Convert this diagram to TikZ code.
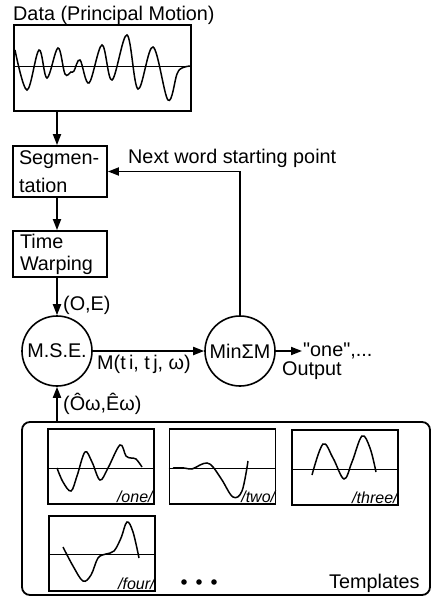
\documentclass[tikz,border=0pt]{standalone}
\usepackage{fontspec}
\setmainfont{Liberation Sans}[Ligatures=TeXOff]
\usetikzlibrary{arrows.meta}
\begin{document}
\begin{tikzpicture}[x=1pt,y=-1pt,
  mainfont/.style={font=\fontsize{19.8}{22}\selectfont},
  box/.style={draw,line width=1.8pt,inner sep=0pt},
  tbox/.style={draw,line width=1.6pt,inner sep=0pt,minimum width=106pt,minimum height=75pt},
  circ/.style={draw,circle,line width=1.6pt,inner sep=0pt,minimum size=70pt,mainfont},
  conn/.style={line width=1.8pt},
  arr/.style={line width=1.8pt,-{Triangle[length=11pt,width=8pt]}},
  wave/.style={line width=1.5pt,smooth,tension=0.6},
  axis/.style={line width=1pt},
  lbl/.style={mainfont,inner sep=0pt},
  tlbl/.style={font=\fontsize{16}{18}\selectfont\itshape,inner sep=0pt,anchor=base east}]
\useasboundingbox (0,0) rectangle (434,599);

% data
\node[lbl,anchor=base west] (title) at (13,21) {Data (Principal Motion)};
\node[box,minimum width=177pt,minimum height=86pt] (data) at (102.5,68) {};
\draw[axis] (data.west |- 0,67) -- (data.east |- 0,67);
\draw[wave] plot coordinates {(15,50) (27,90) (39,50) (47,78) (58,48) (65,74) (71,72) (74,71) (80,60) (89,83) (102,45) (112,80) (127,35) (138,89) (153,47) (168,100) (177,74) (182,68) (190,66)};

% processing boxes
\node[box,minimum width=94pt,minimum height=51pt,text width=82pt,inner xsep=6pt,align=left,font=\fontsize{19.8}{28}\selectfont] (seg) at (60,171.5) {Segmen-\\tation};
\node[box,minimum width=94pt,minimum height=46pt,text width=80pt,inner xsep=7pt,align=left,font=\fontsize{19.8}{22}\selectfont] (tw) at (60,254) {Time\\Warping};

\node[circ] (mse) at (57,351) {M.S.E.};
\node[circ] (min) at (240,351) {MinΣM};
\coordinate (outp) at (302,351);

% templates
\node[draw,rounded corners=8pt,line width=1.8pt,minimum width=408pt,minimum height=173pt,inner sep=0pt] (tmpl) at (226,508.5) {};
\node[tbox] (t1) at (101,466.5) {};
\node[tbox] (t2) at (222.5,466.5) {};
\node[tbox] (t3) at (345,467.5) {};
\node[tbox] (t4) at (102,553.5) {};
\draw[axis] (t1.west |- 0,468) -- (t1.east |- 0,468);
\draw[axis] (t2.west |- 0,468) -- (t2.east |- 0,468);
\draw[axis] (t3.west |- 0,469) -- (t3.east |- 0,469);
\draw[axis] (t4.west |- 0,554) -- (t4.east |- 0,554);
\draw[wave] plot coordinates {(57,468) (63,482) (71,491) (77,476) (85,452) (92,462) (100,480) (108,468) (120,445) (126,456) (131,458) (136,459) (142,467)};
\draw[wave] plot coordinates {(173,468) (184,468) (192,469) (200,465) (207,463) (213,467) (222,480) (233,497) (242,491) (248,461)};
\draw[wave] plot coordinates {(312,475) (323,444) (333,458) (344,479) (352,462) (362,436) (370,448) (376,472)};
\draw[wave] plot coordinates {(63,547) (73,566) (83,581) (91,575) (98,558) (106,554) (114,551) (121,538) (127,522) (133,532) (139,558)};
\node[tlbl] at ([shift={(-2,-2)}]t1.south east) {/one/};
\node[tlbl] at ([shift={(-1,-2)}]t2.south east) {/two/};
\node[tlbl] at ([shift={(-1,-2)}]t3.south east) {/three/};
\node[tlbl] at ([shift={(-1,-2)}]t4.south east) {/four/};
\fill (184,582) circle (2.8) (199,582) circle (2.8) (214,582) circle (2.8);
\node[lbl,anchor=base west] (tmt) at (329,588) {Templates};

% connectors
\draw[arr] (data.south -| mse) -- (seg.north -| mse);
\draw[arr] (seg.south -| mse) -- (tw.north -| mse);
\draw[arr] (tw.south -| mse) -- (mse.north);
\draw[arr] (tmpl.north -| mse) -- (mse.south);
\draw[arr] (mse.east) -- (min.west);
\draw[arr] (min.east) -- (outp);
\draw[arr] (min.north) |- (seg.east);

% labels
\node[lbl,anchor=base west] at (128,163) {Next word starting point};
\node[lbl,anchor=base west] at (63,310) {(O,E)};
\node[lbl,anchor=base west] at (97,369) {M(t\,i, t\,j, ω)};
\node[lbl,anchor=base west] at (303,356) {"one",...};
\node[lbl,anchor=base west] at (282,375) {Output};
\node[lbl,anchor=base west] at (63,410) {(Ôω,Êω)};
\end{tikzpicture}
\end{document}
